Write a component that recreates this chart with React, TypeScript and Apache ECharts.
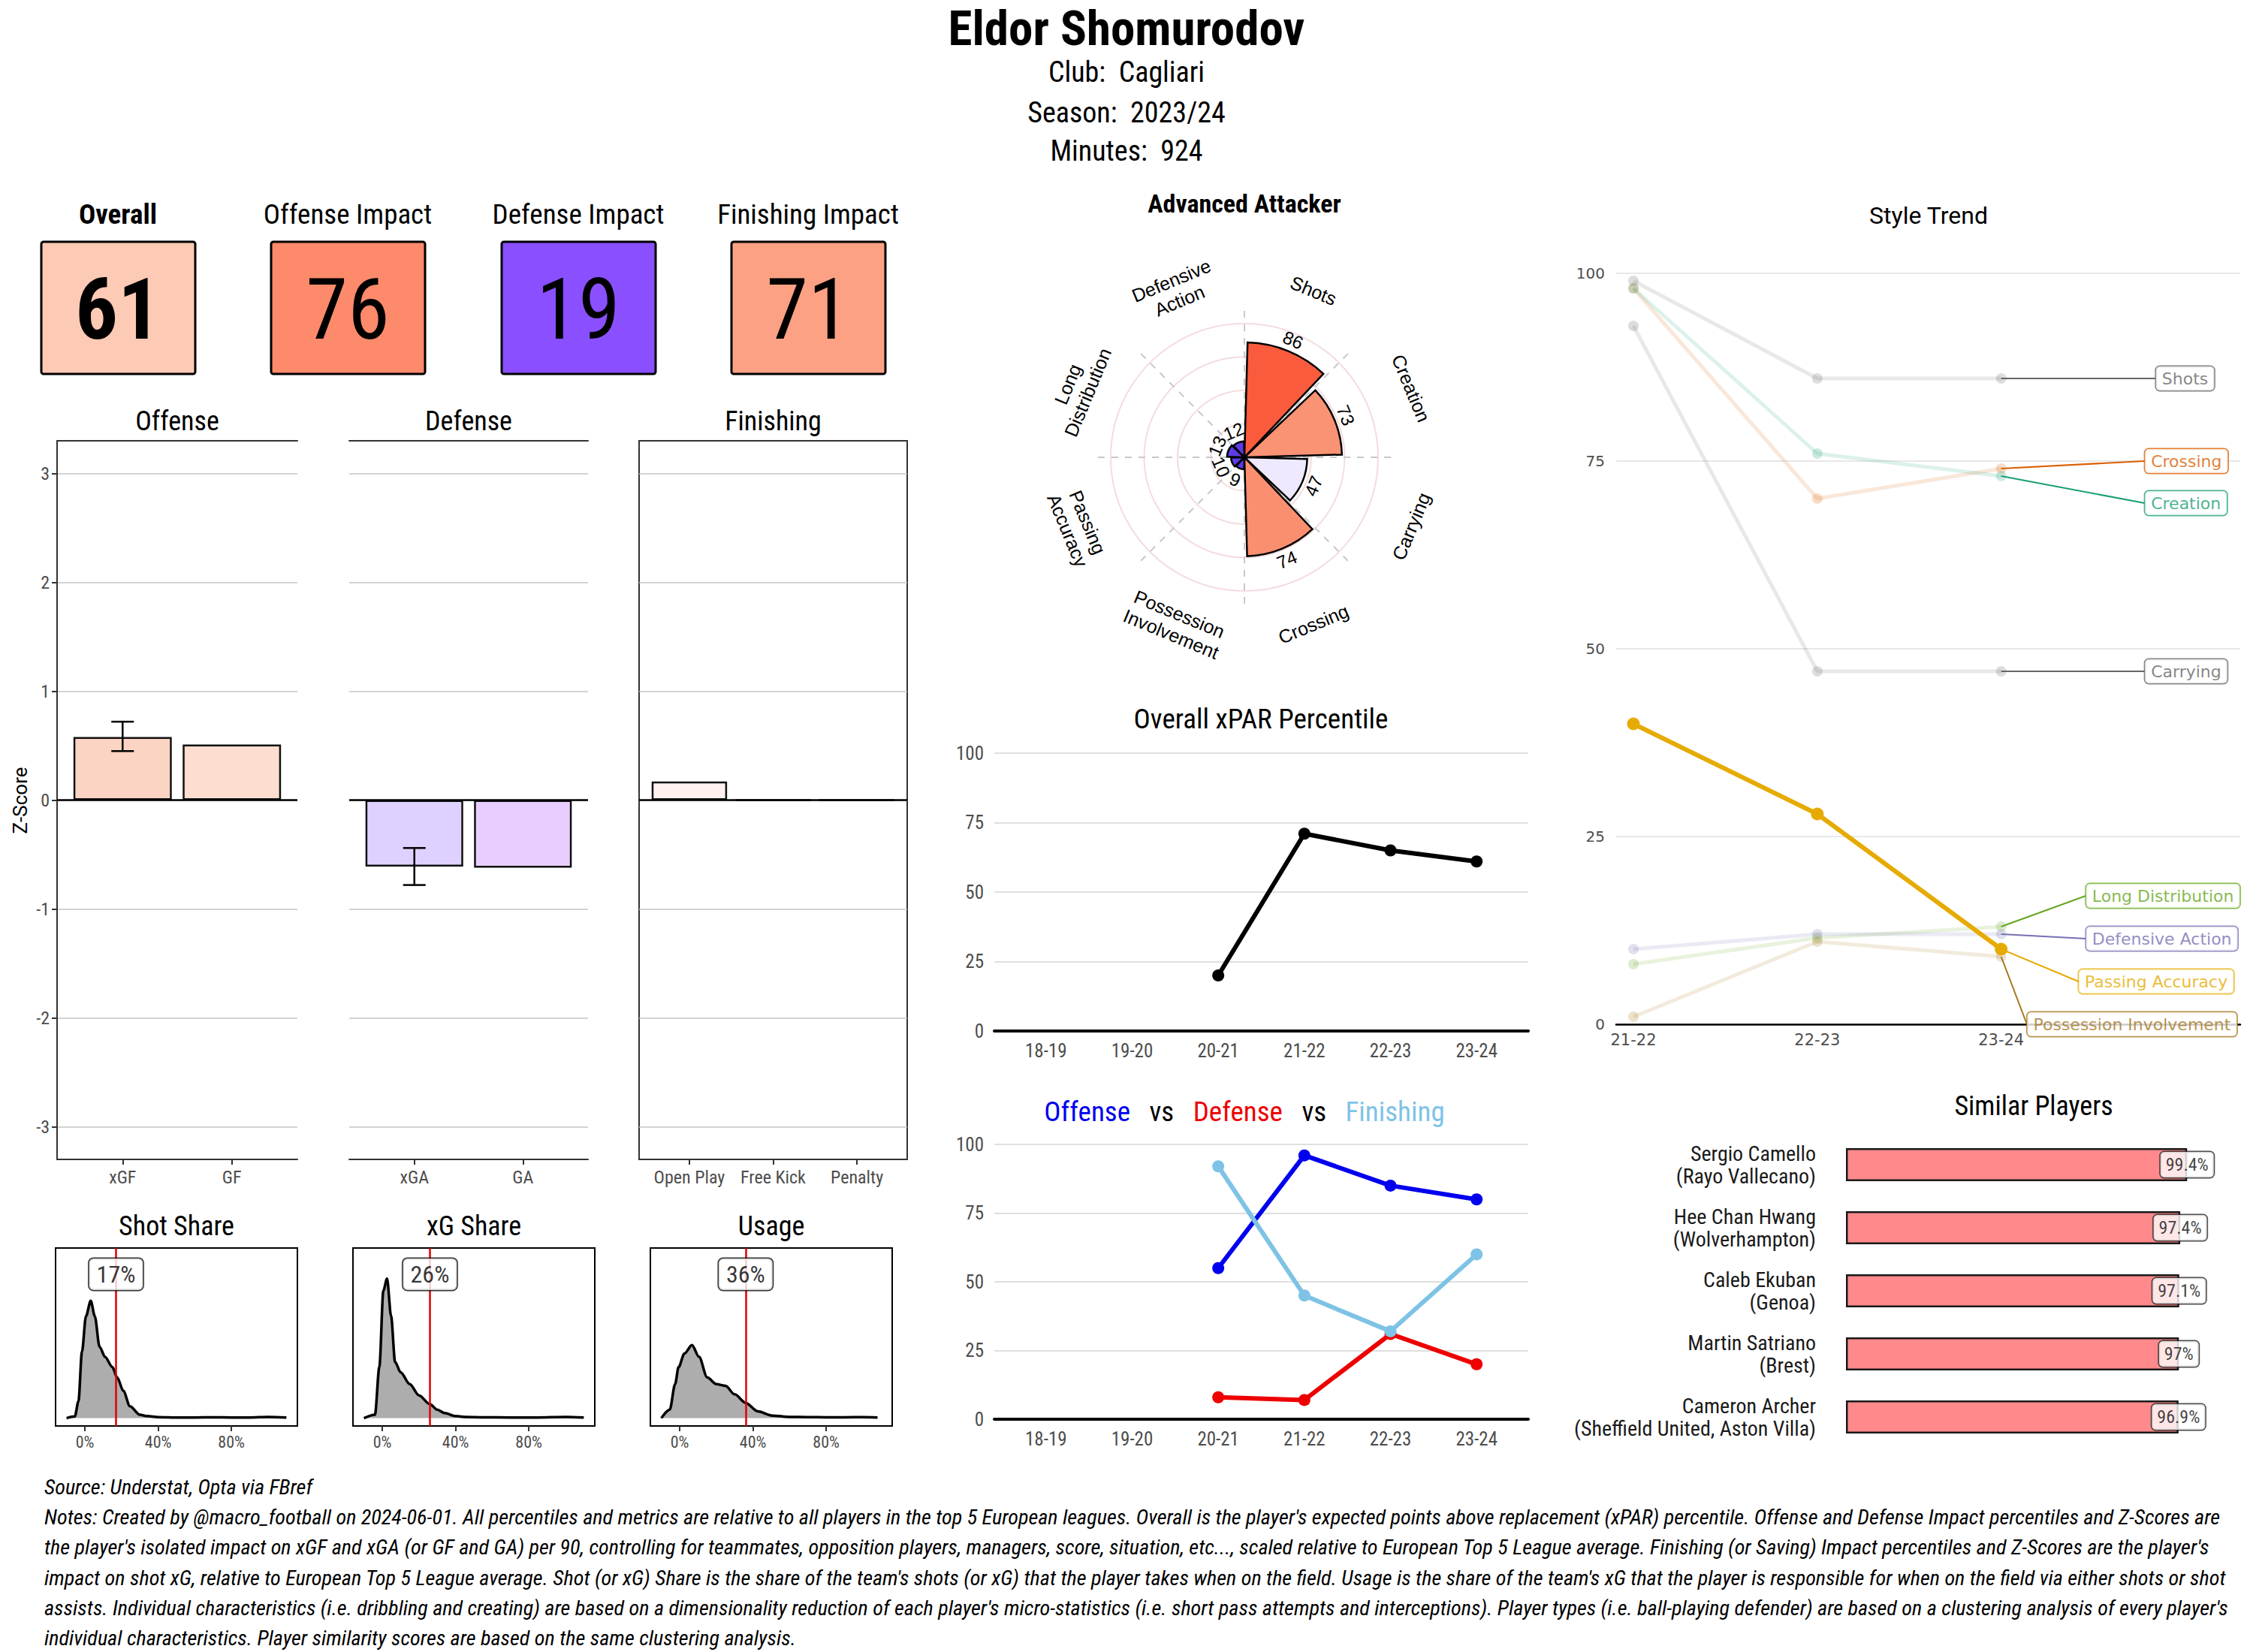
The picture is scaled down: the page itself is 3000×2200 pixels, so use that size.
import React, { useEffect, useRef } from "react";
import * as echarts from "echarts";

// ---------------- fonts ----------------
const COND =
  "'Roboto Condensed', 'Liberation Sans Narrow', 'Noto Sans Condensed', 'DejaVu Sans Condensed', 'Arial Narrow', Roboto, sans-serif";
const ROBOTO = "Roboto, 'Noto Sans', sans-serif";
const ARIAL = "'Liberation Sans', Arial, sans-serif";
const DEJAVU = "'DejaVu Sans', Verdana, sans-serif";

// ---------------- data ----------------
const playerName = "Eldor Shomurodov";
const clubName = "Cagliari";
const seasonName = "2023/24";
const minutesPlayed = 924;

const kpiLabels = ["Overall", "Offense Impact", "Defense Impact", "Finishing Impact"];
const kpiValues = [61, 76, 19, 71];

const offenseCats = ["xGF", "GF"];
const offenseZ = [0.58, 0.51];
const offenseErrLow = [0.45];
const offenseErrHigh = [0.72];
const defenseCats = ["xGA", "GA"];
const defenseZ = [-0.61, -0.62];
const defenseErrLow = [-0.78];
const defenseErrHigh = [-0.44];
const finishingCats = ["Open Play", "Free Kick", "Penalty"];
const finishingZ = [0.17, 0, 0];
const zTicks = [-3, -2, -1, 0, 1, 2, 3];

const shareTitles = ["Shot Share", "xG Share", "Usage"];
const sharePlayer = [0.17, 0.26, 0.36];
const shareTicks = [0, 0.4, 0.8];
const shotShareX = [-0.1, -0.055, -0.035, -0.016, 0.006, 0.032, 0.054, 0.08, 0.11, 0.15, 0.176, 0.21, 0.246, 0.3, 0.34, 0.4, 0.5, 0.6, 0.7, 0.8, 0.9, 1.0, 1.1];
const shotShareY = [0.0, 0.01, 0.1, 0.39, 0.6, 0.69, 0.6, 0.42, 0.36, 0.3, 0.24, 0.16, 0.07, 0.02, 0.012, 0.006, 0.004, 0.004, 0.005, 0.004, 0.004, 0.007, 0.004];
const xgShareX = [-0.1, -0.04, -0.016, 0.006, 0.026, 0.048, 0.07, 0.1, 0.15, 0.2, 0.26, 0.3, 0.34, 0.4, 0.46, 0.55, 0.7, 0.85, 1.0, 1.1];
const xgShareY = [0.0, 0.02, 0.3, 0.75, 0.82, 0.6, 0.33, 0.27, 0.2, 0.134, 0.082, 0.05, 0.03, 0.012, 0.007, 0.005, 0.004, 0.004, 0.007, 0.004];
const usageX = [-0.1, -0.054, -0.025, -0.006, 0.026, 0.067, 0.106, 0.15, 0.2, 0.25, 0.3, 0.36, 0.426, 0.506, 0.6, 0.7, 0.8, 0.9, 1.0, 1.08];
const usageY = [0.0, 0.05, 0.2, 0.3, 0.38, 0.43, 0.36, 0.24, 0.2, 0.19, 0.14, 0.09, 0.04, 0.015, 0.007, 0.006, 0.005, 0.005, 0.006, 0.004];

const archetype = "Advanced Attacker";
const styleCats = ["Shots", "Creation", "Carrying", "Crossing", "Possession Involvement", "Passing Accuracy", "Long Distribution", "Defensive Action"];
const styleCatLabels = ["Shots", "Creation", "Carrying", "Crossing", "Possession\nInvolvement", "Passing\nAccuracy", "Long\nDistribution", "Defensive\nAction"];
const styleValues = [86, 73, 47, 74, 9, 10, 13, 12];

const seasons = ["18-19", "19-20", "20-21", "21-22", "22-23", "23-24"];
const xparPct = [null, null, 20, 71, 65, 61];
const offensePct = [null, null, 55, 96, 85, 80];
const defensePct = [null, null, 8, 7, 31, 20];
const finishingPct = [null, null, 92, 45, 32, 60];

const trendSeasons = ["21-22", "22-23", "23-24"];
const trendShots = [99, 86, 86];
const trendCrossing = [98, 70, 74];
const trendCreation = [98, 76, 73];
const trendCarrying = [93, 47, 47];
const trendLongDistribution = [8, 11.5, 13];
const trendDefensiveAction = [10, 12, 12];
const trendPassingAccuracy = [40, 28, 10];
const trendPossessionInvolvement = [1, 11, 9];
const trendNames = ["Shots", "Crossing", "Creation", "Carrying", "Long Distribution", "Defensive Action", "Passing Accuracy", "Possession Involvement"];
const trendValues = [trendShots, trendCrossing, trendCreation, trendCarrying, trendLongDistribution, trendDefensiveAction, trendPassingAccuracy, trendPossessionInvolvement];
const trendHighlight = "Passing Accuracy";

const similarPlayers = ["Sergio Camello", "Hee Chan Hwang", "Caleb Ekuban", "Martin Satriano", "Cameron Archer"];
const similarClubs = ["Rayo Vallecano", "Wolverhampton", "Genoa", "Brest", "Sheffield United, Aston Villa"];
const similarScores = [99.4, 97.4, 97.1, 97, 96.9];

const notesLines = [
  "Source: Understat, Opta via FBref",
  "Notes: Created by @macro_football on 2024-06-01. All percentiles and metrics are relative to all players in the top 5 European leagues. Overall is the player's expected points above replacement (xPAR) percentile. Offense and Defense Impact percentiles and Z-Scores are",
  "the player's isolated impact on xGF and xGA (or GF and GA) per 90, controlling for teammates, opposition players, managers, score, situation, etc..., scaled relative to European Top 5 League average. Finishing (or Saving) Impact percentiles and Z-Scores are the player's",
  "impact on shot xG, relative to European Top 5 League average. Shot (or xG) Share is the share of the team's shots (or xG) that the player takes when on the field. Usage is the share of the team's xG that the player is responsible for when on the field via either shots or shot",
  "assists. Individual characteristics (i.e. dribbling and creating) are based on a dimensionality reduction of each player's micro-statistics (i.e. short pass attempts and interceptions). Player types (i.e. ball-playing defender) are based on a clustering analysis of every player's",
  "individual characteristics. Player similarity scores are based on the same clustering analysis.",
];

// ---------------- styles / layout ----------------
const KPI_X = [157, 463, 770, 1076];
const KPI_COLORS = ["#FDCAB5", "#FC8A6B", "#8A4FFF", "#FCA184"];

const BAR_TOP = 587;
const BAR_H = 957;
const barPanels = [
  { title: "Offense", cats: offenseCats, vals: offenseZ, colors: ["#FCD4C3", "#FDDDD0"], errLo: offenseErrLow, errHi: offenseErrHigh, left: 76, width: 320, axisLeft: true, box: false },
  { title: "Defense", cats: defenseCats, vals: defenseZ, colors: ["#DFD1FF", "#E7CEFE"], errLo: defenseErrLow, errHi: defenseErrHigh, left: 465, width: 318, axisLeft: false, box: false },
  { title: "Finishing", cats: finishingCats, vals: finishingZ, colors: ["#FEF1EF", "#FFFFFF", "#FFFFFF"], errLo: [] as number[], errHi: [] as number[], left: 851, width: 357, axisLeft: false, box: true },
];

const DENS_LEFT = [74, 470, 866];
const DENS_W = 322;
const DENS_TOP = 1662;
const DENS_H = 237;
const densX = [shotShareX, xgShareX, usageX];
const densY = [shotShareY, xgShareY, usageY];
const SHARE_LABEL_Y = 0.846;

const POLAR_CX = 1657;
const POLAR_CY = 609;
const POLAR_R = 178;
const POLAR_R_OUT = 195;
const POLAR_NUDGE = 9;
const POLAR_CAT_R = 135;
const polarColors = ["#FA5B3D", "#FA9274", "#EFE9FF", "#FA8F70", "#5C3BE6", "#5C3BE6", "#5C3BE6", "#5C3BE6"];

const trendColors = ["#666666", "#D95F02", "#1B9E77", "#666666", "#66A61E", "#7570B3", "#E6AB02", "#A6761D"];
const trendLabelX = [2.84, 2.78, 2.78, 2.78, 2.46, 2.46, 2.42, 2.14];
const trendLabelY = [86, 75, 69.4, 47, 17.1, 11.4, 5.7, 0];

function fade(hex: string, a: number) {
  const n = parseInt(hex.slice(1), 16);
  return `rgba(${(n >> 16) & 255},${(n >> 8) & 255},${n & 255},${a})`;
}

function tangentText(params: any, api: any, text: string, size: number) {
  const p = api.coord([api.value(0), api.value(1)]);
  const cs = params.coordSys;
  const dx = p[0] - cs.cx;
  const dy = p[1] - cs.cy;
  let th = (Math.atan2(dx, -dy) * 180) / Math.PI;
  if (th < 0) th += 360;
  const rot = th > 90 && th < 270 ? 180 - th : -th;
  return {
    type: "text",
    x: p[0],
    y: p[1],
    rotation: (rot * Math.PI) / 180,
    style: { text, fill: "#000", fontSize: size, fontFamily: ARIAL, align: "center", verticalAlign: "middle", lineHeight: size * 1.15 },
  };
}

function buildOption() {
  const grid: any[] = [];
  const xAxis: any[] = [];
  const yAxis: any[] = [];
  const series: any[] = [];
  const graphic: any[] = [];

  const text = (x: number, y: number, t: string, size: number, extra: any = {}) => {
    const style: any = {
      text: t,
      fontSize: size,
      fontFamily: extra.fontFamily || COND,
      fontWeight: extra.fontWeight || "normal",
      fontStyle: extra.fontStyle || "normal",
      fill: extra.fill || "#000",
      align: extra.align || "center",
      verticalAlign: extra.verticalAlign || "middle",
    };
    if (extra.lineHeight) style.lineHeight = extra.lineHeight;
    if (extra.rich) style.rich = extra.rich;
    graphic.push({ type: "text", x, y, rotation: extra.rotation || 0, silent: true, z: 10, style });
  };

  // ---- header ----
  text(1500, 38, playerName, 65, { fontWeight: "bold" });
  text(1500, 96, `Club:  ${clubName}`, 38);
  text(1500, 150, `Season:  ${seasonName}`, 38);
  text(1500, 201, `Minutes:  ${minutesPlayed}`, 38);

  // ---- KPI boxes ----
  kpiLabels.forEach((lab, i) => {
    const cx = KPI_X[i];
    text(cx, 285, lab, 37, { fontWeight: i === 0 ? "bold" : "normal" });
    graphic.push({
      type: "rect",
      silent: true,
      shape: { x: cx - 102, y: 322, width: 205, height: 176, r: 3 },
      style: { fill: KPI_COLORS[i], stroke: "#000", lineWidth: 3 },
    });
    text(cx, 412, String(kpiValues[i]), 113, { fontWeight: i === 0 ? "bold" : "normal" });
  });

  // ---- Z-score bar panels ----
  const zeroLine = {
    silent: true,
    symbol: "none",
    label: { show: false },
    lineStyle: { color: "#000", width: 2.5, type: "solid" },
    data: [{ yAxis: 0 }],
  };
  barPanels.forEach((p) => {
    const gi = grid.length;
    grid.push({ left: p.left, top: BAR_TOP, width: p.width, height: BAR_H, show: p.box, borderColor: "#333", borderWidth: 2, backgroundColor: "transparent" });
    const n = p.cats.length;
    const idx = p.cats.map((_, i) => i);
    const xi = xAxis.length;
    xAxis.push({
      gridIndex: gi,
      type: "value",
      position: "bottom",
      min: -0.6,
      max: n - 0.4,
      axisLine: { show: true, onZero: false, lineStyle: { color: "#333", width: 2 } },
      axisTick: { show: true, customValues: idx, length: 7, lineStyle: { color: "#333", width: 2 } },
      axisLabel: { show: true, customValues: idx, formatter: (v: number) => p.cats[Math.round(v)], fontSize: 24, color: "#4d4d4d", fontFamily: COND, margin: 12 },
      splitLine: { show: false },
    });
    if (!p.box) {
      xAxis.push({
        gridIndex: gi,
        type: "value",
        position: "top",
        min: -0.6,
        max: n - 0.4,
        axisLine: { show: true, onZero: false, lineStyle: { color: "#333", width: 2 } },
        axisTick: { show: false },
        axisLabel: { show: false },
        splitLine: { show: false },
      });
    }
    const yi = yAxis.length;
    yAxis.push({
      gridIndex: gi,
      type: "value",
      min: -3.3,
      max: 3.3,
      axisLine: { show: p.axisLeft, onZero: false, lineStyle: { color: "#333", width: 2 } },
      axisTick: { show: p.axisLeft, customValues: zTicks, length: 7, lineStyle: { color: "#333", width: 2 } },
      axisLabel: { show: p.axisLeft, customValues: zTicks, fontSize: 24, color: "#4d4d4d", fontFamily: COND, margin: 10 },
      splitLine: { show: true, lineStyle: { color: "#C4C4C4", width: 1.5 } },
    });
    series.push({
      type: "bar",
      xAxisIndex: xi,
      yAxisIndex: yi,
      silent: true,
      barWidth: (0.9 * p.width) / (n + 0.2),
      itemStyle: { borderColor: "#111", borderWidth: 2.5 },
      data: p.vals.map((v, i) => ({ value: [i, v], itemStyle: { color: p.colors[i] } })),
      markLine: zeroLine,
      z: 3,
    });
    if (p.errLo.length) {
      series.push({
        type: "custom",
        xAxisIndex: xi,
        yAxisIndex: yi,
        silent: true,
        z: 5,
        data: p.errLo.map((lo, i) => [i, lo, p.errHi[i]]),
        renderItem: (params: any, api: any) => {
          const a = api.coord([api.value(0), api.value(1)]);
          const b = api.coord([api.value(0), api.value(2)]);
          const s = { stroke: "#000", lineWidth: 2.5 };
          return {
            type: "group",
            children: [
              { type: "line", shape: { x1: a[0], y1: a[1], x2: b[0], y2: b[1] }, style: s },
              { type: "line", shape: { x1: a[0] - 15, y1: a[1], x2: a[0] + 15, y2: a[1] }, style: s },
              { type: "line", shape: { x1: b[0] - 15, y1: b[1], x2: b[0] + 15, y2: b[1] }, style: s },
            ],
          };
        },
      });
    }
    text(p.left + p.width / 2, 561, p.title, 36);
  });
  text(27, 1066, "Z-Score", 26, { fontFamily: ROBOTO, rotation: Math.PI / 2 });

  // ---- density panels ----
  shareTitles.forEach((title, k) => {
    const gi = grid.length;
    grid.push({ left: DENS_LEFT[k], top: DENS_TOP, width: DENS_W, height: DENS_H, show: true, borderColor: "#000", borderWidth: 2, backgroundColor: "transparent" });
    const xi = xAxis.length;
    xAxis.push({
      gridIndex: gi,
      type: "value",
      min: -0.16,
      max: 1.16,
      axisLine: { show: false, onZero: false },
      axisTick: { show: true, customValues: shareTicks, length: 7, lineStyle: { color: "#333", width: 2 } },
      axisLabel: { customValues: shareTicks, formatter: (v: number) => Math.round(v * 100) + "%", fontSize: 22, color: "#4d4d4d", fontFamily: COND, margin: 10 },
      splitLine: { show: false },
    });
    const yi = yAxis.length;
    yAxis.push({ gridIndex: gi, type: "value", min: -0.046, max: 1, show: false });
    series.push({
      type: "line",
      xAxisIndex: xi,
      yAxisIndex: yi,
      silent: true,
      data: densX[k].map((x, i) => [x, densY[k][i]]),
      smooth: 0.3,
      smoothMonotone: "x",
      symbol: "none",
      lineStyle: { color: "#000", width: 3.5 },
      areaStyle: { color: "#ADADAD", opacity: 1 },
      markLine: {
        silent: true,
        symbol: "none",
        label: { show: false },
        lineStyle: { color: "#E00000", width: 2.5, type: "solid" },
        data: [{ xAxis: sharePlayer[k] }],
      },
      z: 2,
    });
    series.push({
      type: "scatter",
      xAxisIndex: xi,
      yAxisIndex: yi,
      silent: true,
      data: [[sharePlayer[k], SHARE_LABEL_Y]],
      symbolSize: 1,
      itemStyle: { color: "rgba(0,0,0,0)" },
      label: {
        show: true,
        position: "inside",
        formatter: (pp: any) => Math.round(pp.value[0] * 100) + "%",
        backgroundColor: "#fff",
        borderColor: "#000",
        borderWidth: 1.5,
        borderRadius: 6,
        padding: [5, 10],
        fontSize: 32,
        fontFamily: COND,
        color: "#000",
      },
      z: 6,
    });
    text(DENS_LEFT[k] + DENS_W / 2, 1633, title, 36);
  });

  // ---- season line charts ----
  const seasonIdx = seasons.map((_, i) => i);
  const lineGrid = (top: number, height: number, lines: { vals: (number | null)[]; color: string }[]) => {
    const gi = grid.length;
    grid.push({ left: 1324, width: 711, top, height });
    const xi = xAxis.length;
    xAxis.push({
      gridIndex: gi,
      type: "value",
      min: -0.6,
      max: seasons.length - 0.4,
      axisLine: { show: true, onZero: false, lineStyle: { color: "#000", width: 4 } },
      axisTick: { show: false, customValues: seasonIdx },
      axisLabel: { customValues: seasonIdx, formatter: (v: number) => seasons[Math.round(v)], fontSize: 25, color: "#4d4d4d", fontFamily: COND, margin: 14 },
      splitLine: { show: false },
    });
    const yi = yAxis.length;
    yAxis.push({
      gridIndex: gi,
      type: "value",
      min: 0,
      max: 100,
      interval: 25,
      axisLine: { show: false, onZero: false },
      axisTick: { show: false },
      axisLabel: { fontSize: 25, color: "#4d4d4d", fontFamily: COND, margin: 14 },
      splitLine: { show: true, lineStyle: { color: "#D4D4D4", width: 1.5 } },
    });
    lines.forEach((l) => {
      series.push({
        type: "line",
        xAxisIndex: xi,
        yAxisIndex: yi,
        silent: true,
        data: l.vals.map((v, i) => [i, v]).filter((d) => d[1] != null),
        symbol: "circle",
        symbolSize: 16,
        lineStyle: { color: l.color, width: 6 },
        itemStyle: { color: l.color },
        z: 3,
      });
    });
  };
  lineGrid(1003, 370, [{ vals: xparPct, color: "#000" }]);
  lineGrid(1524, 366, [
    { vals: offensePct, color: "#0000EE" },
    { vals: defensePct, color: "#EE0000" },
    { vals: finishingPct, color: "#7EC3E6" },
  ]);
  text(1679, 957, "Overall xPAR Percentile", 37);
  text(1657, 1480, "{o|Offense}   {k|vs}   {d|Defense}   {k|vs}   {f|Finishing}", 37, {
    rich: {
      o: { fill: "#0000EE", fontSize: 37, fontFamily: COND },
      k: { fill: "#000", fontSize: 37, fontFamily: COND },
      d: { fill: "#EE0000", fontSize: 37, fontFamily: COND },
      f: { fill: "#7EC3E6", fontSize: 37, fontFamily: COND },
    },
  });

  // ---- style trend ----
  {
    const gi = grid.length;
    grid.push({ left: 2152, right: 17, top: 364, height: 1000 });
    const xi = xAxis.length;
    const tIdx = trendSeasons.map((_, i) => i);
    xAxis.push({
      gridIndex: gi,
      type: "value",
      min: -0.094,
      max: 3.3,
      axisLine: { show: true, onZero: false, lineStyle: { color: "#000", width: 2.5 } },
      axisTick: { show: false, customValues: tIdx },
      axisLabel: { customValues: tIdx, formatter: (v: number) => trendSeasons[Math.round(v)], fontSize: 21, color: "#4d4d4d", fontFamily: DEJAVU, margin: 10 },
      splitLine: { show: false },
    });
    const yi = yAxis.length;
    yAxis.push({
      gridIndex: gi,
      type: "value",
      min: 0,
      max: 100,
      interval: 25,
      axisLine: { show: false, onZero: false },
      axisTick: { show: false },
      axisLabel: { fontSize: 20, color: "#4d4d4d", fontFamily: DEJAVU, margin: 15 },
      splitLine: { show: true, lineStyle: { color: "#E0E0E0", width: 1.5 } },
    });
    const order = trendNames.map((_, i) => i).sort((a, b) => (trendNames[a] === trendHighlight ? 1 : 0) - (trendNames[b] === trendHighlight ? 1 : 0));
    order.forEach((k) => {
      const hl = trendNames[k] === trendHighlight;
      const col = trendColors[k];
      series.push({
        type: "line",
        xAxisIndex: xi,
        yAxisIndex: yi,
        silent: true,
        data: trendValues[k].map((v, i) => [i, v]),
        symbol: "circle",
        symbolSize: hl ? 17 : 14,
        lineStyle: { color: hl ? col : fade(col, 0.15), width: hl ? 6 : 5 },
        itemStyle: { color: hl ? col : fade(col, 0.22) },
        z: hl ? 4 : 2,
      });
    });
    trendNames.forEach((name, k) => {
      const col = trendColors[k];
      const last = trendValues[k][trendValues[k].length - 1];
      series.push({
        type: "line",
        xAxisIndex: xi,
        yAxisIndex: yi,
        silent: true,
        data: [
          [trendSeasons.length - 1, last],
          [trendLabelX[k], trendLabelY[k]],
        ],
        symbol: "none",
        lineStyle: { color: col, width: 2 },
        z: 3,
      });
      series.push({
        type: "scatter",
        xAxisIndex: xi,
        yAxisIndex: yi,
        silent: true,
        data: [[trendLabelX[k], trendLabelY[k]]],
        symbolSize: 1,
        itemStyle: { color: "rgba(0,0,0,0)" },
        label: {
          show: true,
          position: "right",
          distance: 0,
          formatter: name,
          backgroundColor: "#fff",
          borderColor: col,
          borderWidth: 1.5,
          borderRadius: 5,
          padding: [5, 8],
          fontSize: 22,
          fontFamily: DEJAVU,
          color: col,
        },
        z: 5,
      });
    });
    text(2568, 287, "Style Trend", 32, { fontFamily: ROBOTO });
  }

  // ---- similar players ----
  {
    const gi = grid.length;
    grid.push({ left: 2458, right: 85, top: 1509, height: 420 });
    const xi = xAxis.length;
    xAxis.push({ gridIndex: gi, type: "value", min: 0, max: 100, show: false });
    const yi = yAxis.length;
    yAxis.push({
      gridIndex: gi,
      type: "category",
      inverse: true,
      data: similarPlayers.map((p, i) => `${p}\n(${similarClubs[i]})`),
      axisLine: { show: false },
      axisTick: { show: false },
      axisLabel: { fontSize: 28, fontFamily: COND, color: "#1a1a1a", lineHeight: 30, margin: 40 },
      splitLine: { show: false },
    });
    series.push({
      type: "bar",
      xAxisIndex: xi,
      yAxisIndex: yi,
      silent: true,
      barWidth: 44,
      data: similarScores,
      itemStyle: { color: "#FF898B", borderColor: "#1a1a1a", borderWidth: 2.5 },
      z: 2,
    });
    series.push({
      type: "scatter",
      xAxisIndex: xi,
      yAxisIndex: yi,
      silent: true,
      data: similarScores.map((v, i) => [v, i]),
      symbolSize: 1,
      itemStyle: { color: "rgba(0,0,0,0)" },
      label: {
        show: true,
        position: "inside",
        formatter: (pp: any) => similarScores[pp.dataIndex] + "%",
        backgroundColor: "#fff",
        borderColor: "#222",
        borderWidth: 1.5,
        borderRadius: 5,
        padding: [5, 7],
        fontSize: 24,
        fontFamily: COND,
        color: "#111",
      },
      z: 5,
    });
    text(2708, 1473, "Similar Players", 36);
  }

  // ---- polar (style profile) ----
  const outerMax = (100 * POLAR_R_OUT) / POLAR_R;
  const polar = [
    { center: [POLAR_CX, POLAR_CY], radius: [0, POLAR_R_OUT] },
    { center: [POLAR_CX, POLAR_CY], radius: [0, POLAR_R] },
  ];
  const angleAxis = [
    {
      polarIndex: 0,
      type: "category",
      data: styleCats,
      startAngle: 90,
      clockwise: true,
      boundaryGap: true,
      axisLine: { show: false },
      axisTick: { show: false },
      axisLabel: { show: false },
      splitLine: { show: true, lineStyle: { color: "#C8C8C8", width: 2, type: [9, 9] } },
      z: 1,
    },
    {
      polarIndex: 1,
      type: "category",
      data: styleCats,
      startAngle: 90,
      clockwise: true,
      boundaryGap: true,
      axisLine: { show: false },
      axisTick: { show: false },
      axisLabel: { show: false },
      splitLine: { show: false },
    },
  ];
  const radiusAxis = [
    { polarIndex: 0, type: "value", min: 0, max: outerMax, axisLine: { show: false }, axisTick: { show: false }, axisLabel: { show: false }, splitLine: { show: false } },
    {
      polarIndex: 1,
      type: "value",
      min: 0,
      max: 100,
      interval: 25,
      axisLine: { show: false },
      axisTick: { show: false },
      axisLabel: { show: false },
      splitLine: { show: true, lineStyle: { color: "#F4DCDF", width: 2 } },
    },
  ];
  series.push({
    type: "bar",
    coordinateSystem: "polar",
    polarIndex: 1,
    silent: true,
    barCategoryGap: "7%",
    data: styleValues.map((v, i) => ({ value: v, itemStyle: { color: polarColors[i] } })),
    itemStyle: { borderColor: "#000", borderWidth: 2.5 },
    z: 3,
  });
  series.push({
    type: "custom",
    coordinateSystem: "polar",
    polarIndex: 0,
    clip: false,
    silent: true,
    z: 6,
    encode: { radius: 0, angle: 1 },
    data: styleValues.map((v, i) => [v + POLAR_NUDGE, i]),
    renderItem: (params: any, api: any) => tangentText(params, api, String(styleValues[params.dataIndex]), 24),
  });
  series.push({
    type: "custom",
    coordinateSystem: "polar",
    polarIndex: 0,
    clip: false,
    silent: true,
    z: 6,
    encode: { radius: 0, angle: 1 },
    data: styleCatLabels.map((_, i) => [POLAR_CAT_R, i]),
    renderItem: (params: any, api: any) => tangentText(params, api, styleCatLabels[params.dataIndex], 25),
  });
  text(POLAR_CX, 271, archetype, 34, { fontWeight: "bold" });

  // ---- notes ----
  text(59, 1960, notesLines.join("\n"), 28.2, { align: "left", verticalAlign: "top", fontStyle: "italic", lineHeight: 40.3 });

  return {
    animation: false,
    backgroundColor: "#fff",
    textStyle: { fontFamily: COND },
    grid,
    xAxis,
    yAxis,
    polar,
    angleAxis,
    radiusAxis,
    series,
    graphic,
  };
}

export default function App() {
  const ref = useRef<HTMLDivElement>(null);
  useEffect(() => {
    document.body.style.margin = "0";
    const chart = echarts.init(ref.current as HTMLDivElement, undefined, { renderer: "svg", width: 3000, height: 2200 });
    chart.setOption(buildOption() as any);
    return () => chart.dispose();
  }, []);
  return <div ref={ref} style={{ width: 3000, height: 2200, background: "#fff" }} />;
}
